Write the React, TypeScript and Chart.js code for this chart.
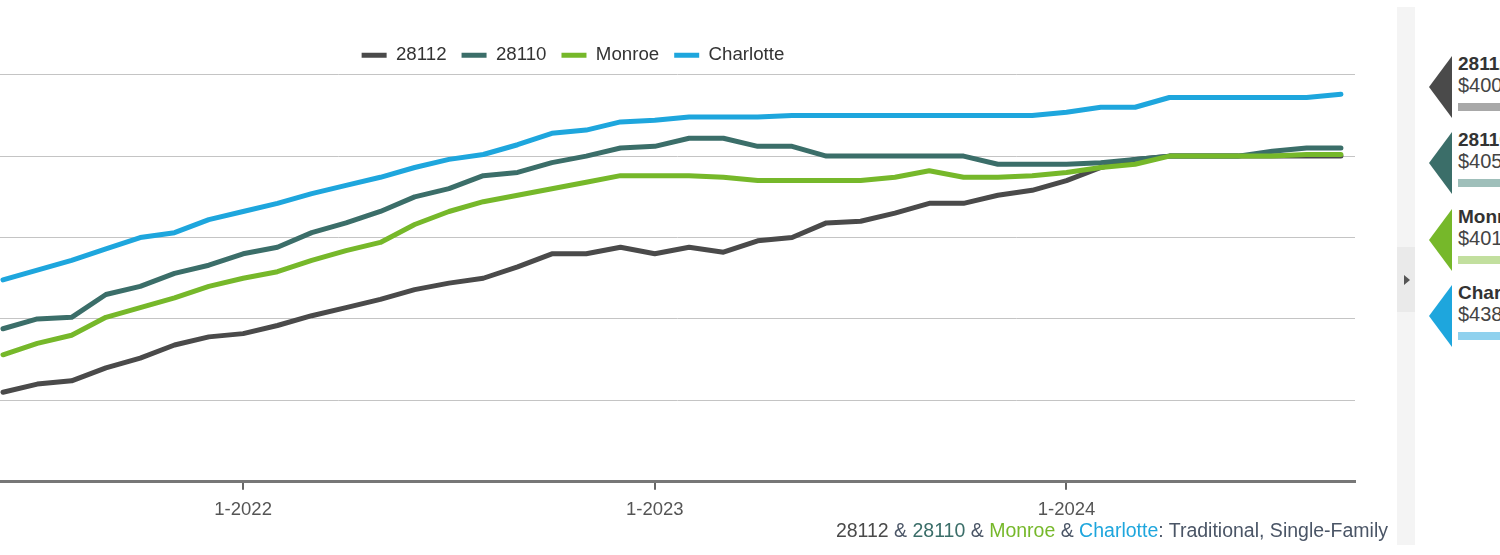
import React, { useEffect, useRef } from "react";
import { Chart, registerables } from "chart.js";

Chart.register(...registerables);

// Monthly points, 6-2021 .. 9-2024 (values in $K)
const months = [
  "6-2021", "7-2021", "8-2021", "9-2021", "10-2021", "11-2021", "12-2021",
  "1-2022", "2-2022", "3-2022", "4-2022", "5-2022", "6-2022", "7-2022", "8-2022", "9-2022", "10-2022", "11-2022", "12-2022",
  "1-2023", "2-2023", "3-2023", "4-2023", "5-2023", "6-2023", "7-2023", "8-2023", "9-2023", "10-2023", "11-2023", "12-2023",
  "1-2024", "2-2024", "3-2024", "4-2024", "5-2024", "6-2024", "7-2024", "8-2024", "9-2024",
];
const tickLabels = ["1-2022", "1-2023", "1-2024"];

const s28112 = [255, 260, 262, 270, 276, 284, 289, 291, 296, 302, 307, 312, 318, 322, 325, 332, 340, 340, 344, 340, 344, 341, 348, 350, 359, 360, 365, 371, 371, 376, 379, 385, 393, 398, 400, 400, 400, 400, 400, 400];
const s28110 = [294, 300, 301, 315, 320, 328, 333, 340, 344, 353, 359, 366, 375, 380, 388, 390, 396, 400, 405, 406, 411, 411, 406, 406, 400, 400, 400, 400, 400, 395, 395, 395, 396, 398, 400, 400, 400, 403, 405, 405];
const monroe = [278, 285, 290, 301, 307, 313, 320, 325, 329, 336, 342, 347, 358, 366, 372, 376, 380, 384, 388, 388, 388, 387, 385, 385, 385, 385, 387, 391, 387, 387, 388, 390, 393, 395, 400, 400, 400, 400, 401, 401];
const charlotte = [324, 330, 336, 343, 350, 353, 361, 366, 371, 377, 382, 387, 393, 398, 401, 407, 414, 416, 421, 422, 424, 424, 424, 425, 425, 425, 425, 425, 425, 425, 425, 427, 430, 430, 436, 436, 436, 436, 436, 438];

const seriesNames = ["28112", "28110", "Monroe", "Charlotte"];
const seriesValues = [s28112, s28110, monroe, charlotte];
const seriesColors = ["#4a4a4a", "#3b6e69", "#76b82a", "#1ea6dd"];
const cardBarColors = ["#a8a8a8", "#9fbfba", "#c2df9e", "#8fd1ee"];
const cardNames = ["28112", "28110", "Monroe", "Charlotte"];
const cardValues = ["$400K", "$405K", "$401K", "$438K"];

const FONT = "'Liberation Sans', Arial, Helvetica, sans-serif";

function LineChart() {
  const ref = useRef<HTMLCanvasElement | null>(null);
  useEffect(() => {
    if (!ref.current) return;
    const tickIdx = tickLabels.map((t) => months.indexOf(t));
    const chart = new Chart(ref.current, {
      type: "line",
      data: {
        datasets: seriesNames.map((name, i) => ({
          label: name,
          data: seriesValues[i].map((v, k) => ({ x: k, y: v })),
          borderColor: seriesColors[i],
          backgroundColor: seriesColors[i],
          borderWidth: 5,
          pointRadius: 0,
          tension: 0,
          borderJoinStyle: "round" as const,
          borderCapStyle: "round" as const,
          order: seriesNames.length - i,
        })),
      },
      options: {
        animation: false,
        responsive: true,
        maintainAspectRatio: false,
        layout: { padding: { top: 28, right: 25, bottom: 6, left: 0 } },
        plugins: {
          tooltip: { enabled: false },
          legend: {
            display: true,
            position: "top",
            labels: {
              boxWidth: 25,
              boxHeight: 5,
              padding: 15,
              color: "#333",
              font: { size: 18.7, family: FONT },
              sort: (a: any, b: any) => a.datasetIndex - b.datasetIndex,
              generateLabels: (c: any) =>
                Chart.defaults.plugins.legend.labels.generateLabels(c).map((l: any) => ({
                  ...l,
                  lineWidth: 0,
                  fillStyle: seriesColors[l.datasetIndex],
                  strokeStyle: seriesColors[l.datasetIndex],
                })),
            },
          },
        },
        scales: {
          x: {
            type: "linear",
            min: -0.087,
            max: 39.41,
            afterBuildTicks: (scale: any) => {
              scale.ticks = tickIdx.map((v) => ({ value: v }));
            },
            ticks: {
              autoSkip: false,
              maxRotation: 0,
              padding: 9,
              color: "#555",
              font: { size: 18.5, family: FONT },
              callback: (v: any) => {
                const j = tickIdx.indexOf(Number(v));
                return j >= 0 ? tickLabels[j] : "";
              },
            },
            grid: { drawOnChartArea: false, drawTicks: true, tickLength: 8, color: "#666", lineWidth: 2 },
            border: { display: true, color: "#777", width: 3 },
          },
          y: {
            min: 200,
            max: 450,
            afterFit: (scale: any) => {
              scale.width = 209;
            },
            ticks: { display: false, stepSize: 50 },
            grid: { color: "#c4c4c4", lineWidth: 1, drawTicks: false },
            border: { display: false },
          },
        },
      },
    } as any);
    return () => chart.destroy();
  }, []);
  return <canvas ref={ref} />;
}

export default function App() {
  const cardTop0 = 57;
  const cardStep = 76.3;
  return (
    <div style={{ position: "absolute", left: 0, top: 0, width: 1500, height: 555, overflow: "hidden", background: "#fff", fontFamily: FONT }}>
      <div style={{ position: "absolute", left: -209, top: 3, width: 1589, height: 533 }}>
        <LineChart />
      </div>
      <div style={{ position: "absolute", right: 112, top: 519, fontSize: 19.5, lineHeight: "22px", whiteSpace: "nowrap", color: "#4a5566" }}>
        <span style={{ color: seriesColors[0] }}>{seriesNames[0]}</span>
        {" & "}
        <span style={{ color: seriesColors[1] }}>{seriesNames[1]}</span>
        {" & "}
        <span style={{ color: seriesColors[2] }}>{seriesNames[2]}</span>
        {" & "}
        <span style={{ color: seriesColors[3] }}>{seriesNames[3]}</span>
        {": Traditional, Single-Family"}
      </div>
      <div style={{ position: "absolute", left: 1397, top: 7, width: 18, height: 538, background: "#f4f4f4" }} />
      <div style={{ position: "absolute", left: 1397, top: 247, width: 18, height: 65, background: "#eaeaea" }} />
      <div style={{ position: "absolute", left: 1404, top: 275, width: 0, height: 0, borderLeft: "6px solid #555", borderTop: "5px solid transparent", borderBottom: "5px solid transparent" }} />
      {cardNames.map((n, i) => {
        const t = cardTop0 + cardStep * i;
        return (
          <React.Fragment key={n}>
            <div style={{ position: "absolute", left: 1429, top: t - 1, width: 0, height: 0, borderRight: `23px solid ${seriesColors[i]}`, borderTop: "31px solid transparent", borderBottom: "31px solid transparent" }} />
            <div style={{ position: "absolute", left: 1458, top: t - 4, fontSize: 19, lineHeight: "22px", fontWeight: "bold", color: "#333", whiteSpace: "nowrap" }}>{n}</div>
            <div style={{ position: "absolute", left: 1458, top: t + 17, fontSize: 20, lineHeight: "22px", color: "#444", whiteSpace: "nowrap" }}>{cardValues[i]}</div>
            <div style={{ position: "absolute", left: 1458, top: t + 46, width: 120, height: 8, background: cardBarColors[i] }} />
          </React.Fragment>
        );
      })}
    </div>
  );
}
